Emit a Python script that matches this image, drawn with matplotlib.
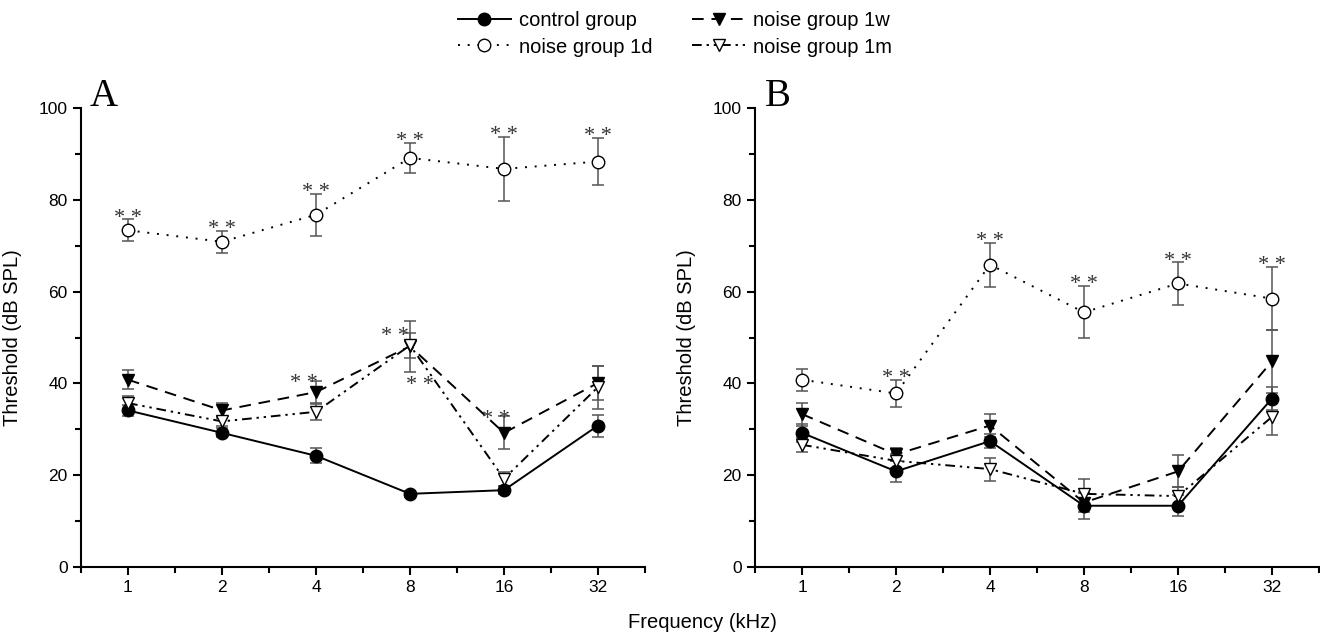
import numpy as np
import matplotlib
matplotlib.use("Agg")
import matplotlib.pyplot as plt

plt.rcParams['font.family'] = ['Liberation Sans', 'DejaVu Sans']

freqs = ['1', '2', '4', '8', '16', '32']
series_names = ['control group', 'noise group 1d', 'noise group 1w', 'noise group 1m']

# panel A
ctrl_a = [34.1, 29.2, 24.2, 15.9, 16.7, 30.8]
ctrl_a_err = [1.2, 1.0, 1.6, 0.6, 0.9, 2.4]
d1_a = [73.4, 70.9, 76.8, 89.2, 86.8, 88.4]
d1_a_err = [2.4, 2.4, 4.6, 3.3, 6.9, 5.2]
w1_a = [40.8, 34.1, 38.1, 48.1, 29.2, 40.1]
w1_a_err = [2.1, 1.6, 2.4, 5.6, 3.6, 3.8]
m1_a = [35.7, 31.7, 33.8, 48.3, 19.2, 39.2]
m1_a_err = [1.5, 1.0, 1.7, 2.8, 1.5, 4.7]

# panel B
ctrl_b = [29.2, 20.8, 27.4, 13.3, 13.3, 36.7]
ctrl_b_err = [2.0, 2.3, 1.5, 3.0, 2.3, 2.5]
d1_b = [40.8, 37.8, 65.9, 55.5, 61.8, 58.5]
d1_b_err = [2.4, 3.0, 4.8, 5.7, 4.6, 6.9]
w1_b = [33.3, 24.5, 30.8, 14.0, 20.8, 44.8]
w1_b_err = [2.5, 1.5, 2.5, 2.0, 3.5, 6.8]
m1_b = [26.6, 23.1, 21.3, 15.9, 15.4, 32.7]
m1_b_err = [1.5, 1.5, 2.5, 3.2, 2.0, 4.0]

# significance marks: 1d marks above the error bar, plus extra ones (index, shift, y)
d1_star_idx_a = [0, 1, 2, 3, 4, 5]
d1_star_idx_b = [1, 2, 3, 4, 5]
extra_stars_a = [(2, -0.13, 41.9), (3, -0.16, 52.1), (3, 0.11, 41.4), (4, -0.09, 33.9)]
extra_stars_b = []

styles = {
    'control group': dict(ls='-', marker='o', mfc='black', dashes=None),
    'noise group 1d': dict(ls=':', marker='o', mfc='white', dashes=(1, 4)),
    'noise group 1w': dict(ls='--', marker='v', mfc='black', dashes=(6, 4)),
    'noise group 1m': dict(ls='-.', marker='v', mfc='white', dashes=(5, 2.5, 1.2, 2.5, 1.2, 2.5)),
}

fig = plt.figure(figsize=(13.2, 6.36), dpi=100)
ax_a = fig.add_axes([81 / 1320, 1 - 566.7 / 636, 564 / 1320, 458.3 / 636])
ax_b = fig.add_axes([755 / 1320, 1 - 566.7 / 636, 564 / 1320, 458.3 / 636])


def draw_panel(ax, data, d1_star_idx, extra_stars, letter):
    x = np.arange(len(freqs))
    handles = []
    for name in series_names:
        y, err = data[name]
        st = styles[name]
        ax.errorbar(x, y, yerr=err, fmt='none', ecolor='#555555', elinewidth=1.1,
                    capsize=4, capthick=1.1, zorder=2)
        line, = ax.plot(x, y, color='black', lw=1.4, ls=st['ls'], marker=st['marker'],
                        ms=9, mfc=st['mfc'], mec='black', mew=1.0, zorder=3, label=name)
        if st['dashes'] is not None:
            line.set_dashes(st['dashes'])
        handles.append(line)
    y1d, e1d = data['noise group 1d']
    for i in d1_star_idx:
        ax.text(x[i], y1d[i] + e1d[i] - 0.7, '* *', family=['Liberation Serif'],
                fontsize=16, color='#333333', ha='center', va='baseline')
    for i, dx, yy in extra_stars:
        ax.text(x[i] + dx, yy - 2.8, '* *', family=['Liberation Serif'],
                fontsize=16, color='#333333', ha='center', va='baseline')

    ax.set_xlim(-0.5, 5.5)
    ax.set_ylim(0, 100)
    ax.set_xticks(x)
    ax.set_xticklabels(freqs)
    ax.set_xticks(np.arange(-0.5, 5.6, 1.0), minor=True)
    ax.set_yticks(np.arange(0, 101, 20))
    ax.set_yticks(np.arange(10, 100, 20), minor=True)
    for s in ['top', 'right']:
        ax.spines[s].set_visible(False)
    for s in ['left', 'bottom']:
        ax.spines[s].set_linewidth(1.5)
    ax.tick_params(which='major', direction='out', length=6, width=1.5, labelsize=12.5)
    ax.tick_params(which='minor', direction='out', length=4, width=1.5)
    ax.set_ylabel('Threshold (dB SPL)', fontsize=14.5)
    ax.yaxis.set_label_coords(-59 / 564, 0.5)
    ax.text(0.04, 1.025, letter, transform=ax.transAxes, family=['Liberation Serif'],
            fontsize=28, ha='center', va='center')
    return handles


data_a = {'control group': (ctrl_a, ctrl_a_err), 'noise group 1d': (d1_a, d1_a_err),
          'noise group 1w': (w1_a, w1_a_err), 'noise group 1m': (m1_a, m1_a_err)}
data_b = {'control group': (ctrl_b, ctrl_b_err), 'noise group 1d': (d1_b, d1_b_err),
          'noise group 1w': (w1_b, w1_b_err), 'noise group 1m': (m1_b, m1_b_err)}

handles = draw_panel(ax_a, data_a, d1_star_idx_a, extra_stars_a, 'A')
draw_panel(ax_b, data_b, d1_star_idx_b, extra_stars_b, 'B')

fig.text(702 / 1320, 1 - 623 / 636, 'Frequency (kHz)', fontsize=14.5, ha='center', va='center')

fig.legend(handles=handles, labels=series_names, ncol=2, loc='center',
           bbox_to_anchor=(675 / 1320, 1 - 34 / 636), frameon=False, fontsize=14.5,
           handlelength=2.6, columnspacing=2.0, labelspacing=0.35, handletextpad=0.4)

fig.savefig('out.png', dpi=100)
